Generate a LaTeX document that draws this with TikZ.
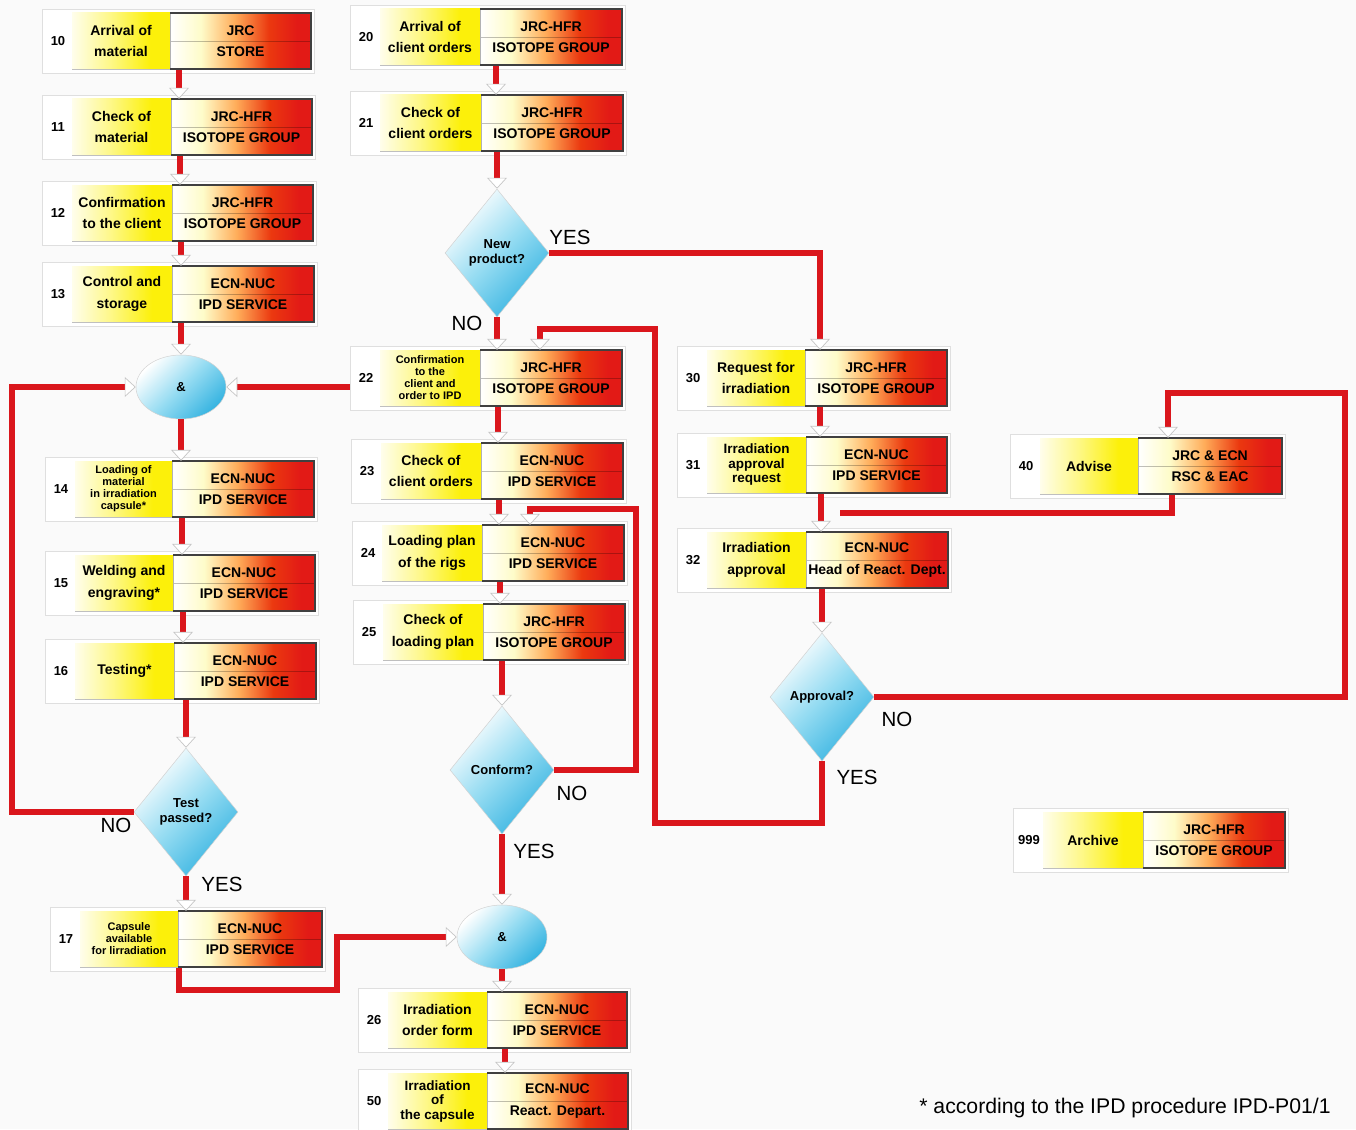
\documentclass[tikz,border=0pt]{standalone}
\usepackage{fontspec}
\setmainfont{Liberation Sans}
\usetikzlibrary{shapes.geometric,fit,arrows.meta}
\definecolor{dred}{RGB}{226,26,22}
\definecolor{lnred}{RGB}{218,22,28}
\definecolor{cyd}{RGB}{55,180,225}
\definecolor{cym}{RGB}{150,220,242}
\definecolor{yel}{RGB}{252,240,10}
\pgfdeclarehorizontalshading{labsh}{100bp}{color(0bp)=(white); color(25bp)=(yel!8!white); color(45bp)=(yel!50!white); color(65bp)=(yel); color(100bp)=(yel)}
\pgfdeclarehorizontalshading{deptsh}{100bp}{color(0bp)=(white); color(25bp)=(white); color(36bp)=(yel!22!white); color(48bp)=(orange!65!white); color(60bp)=(dred!70!orange); color(70bp)=(dred); color(100bp)=(dred)}
\tikzset{
  flow/.style={draw=lnred,line width=5.5},
  flowin/.style={flow,-{Triangle[width=20,length=11,fill=white,color=gray!45,line width=0.7]}},
  numtxt/.style={font=\fontsize{13}{15}\selectfont\bfseries},
  labtwo/.style={align=center,font=\fontsize{14}{21.5}\selectfont\bfseries},
  labthree/.style={align=center,font=\fontsize{13.5}{14.5}\selectfont\bfseries},
  labfour/.style={align=center,font=\fontsize{11}{12}\selectfont\bfseries},
  depttxt/.style={align=center,font=\fontsize{14}{21.5}\selectfont\bfseries},
  decision/.style={diamond,inner sep=0,minimum width=104,minimum height=128,
    top color=white,bottom color=cyd,middle color=cym,shading angle=45,
    draw=gray!35,line width=.5,align=center,font=\fontsize{13}{15}\selectfont\bfseries},
  joinnode/.style={ellipse,inner sep=0,minimum width=90,minimum height=64,
    top color=white,bottom color=cyd,middle color=cym,shading angle=45,
    draw=gray!35,line width=.5,font=\fontsize{13}{15}\selectfont\bfseries},
  yn/.style={font=\fontsize{20.5}{22}\selectfont},
}
% #1 name, #2 x0, #3 xm, #4 x1, #5 y0, #6 label style, #7 number, #8 label, #9 dept
\newcommand\stepbox[9]{%
  \path[fill=white,draw=gray!25,line width=.6] ({#2-30},{#5-4}) rectangle ({#4+3},{#5+60});
  \shade[shading=labsh] (#2,#5) rectangle (#3,{#5+56});
  \shade[shading=deptsh] (#3,#5) rectangle (#4,{#5+56});
  \draw[black,opacity=.25,line width=.5] (#3,{#5+28}) -- (#4,{#5+28});
  \draw[gray!60,line width=.8] (#3,#5) -- (#3,{#5+56});
  \draw[gray!50!black,line width=2.2] (#3,#5) -- (#4,#5) -- (#4,{#5+56}) -- (#3,{#5+56});
  \draw[gray!50,line width=.8] (#2,{#5+56}) -- (#3,{#5+56});
  \node[inner sep=0,fit={({#2-30},{#5}) ({#4+3},{#5+57})}] (#1) {};
  \node[numtxt] at ({#2-14},{#5+28}) {#7};
  \node[#6] at ({(#2+#3)/2},{#5+28}) {#8};
  \node[depttxt] at ({(#3+#4)/2},{#5+28}) {#9};
}
\begin{document}
\begin{tikzpicture}[x=1pt,y=-1pt]
\useasboundingbox (0,0) rectangle (1356,1129);
\fill[white!98!black] (0,0) rectangle (1356,1129);
% column 1
\stepbox{b10}{72}{170}{311}{13}{labtwo}{10}{Arrival of\\material}{JRC\\STORE}
\stepbox{b11}{72}{171}{312}{99}{labtwo}{11}{Check of\\material}{JRC-HFR\\ISOTOPE GROUP}
\stepbox{b12}{72}{172}{313}{185}{labtwo}{12}{Confirmation\\to the client}{JRC-HFR\\ISOTOPE GROUP}
\stepbox{b13}{72}{172}{314}{266}{labtwo}{13}{Control and\\storage}{ECN-NUC\\IPD SERVICE}
\stepbox{b14}{75}{172}{314}{461}{labfour}{14}{Loading of\\material\\in irradiation\\capsule*}{ECN-NUC\\IPD SERVICE}
\stepbox{b15}{75}{173}{315}{555}{labtwo}{15}{Welding and\\engraving*}{ECN-NUC\\IPD SERVICE}
\stepbox{b16}{75}{174}{316}{643}{labtwo}{16}{Testing*}{ECN-NUC\\IPD SERVICE}
\stepbox{b17}{80}{178}{322}{911}{labfour}{17}{Capsule\\available\\for lirradiation}{ECN-NUC\\IPD SERVICE}
% column 2
\stepbox{b20}{380}{480}{622}{9}{labtwo}{20}{Arrival of\\client orders}{JRC-HFR\\ISOTOPE GROUP}
\stepbox{b21}{380}{481}{623}{95}{labtwo}{21}{Check of\\client orders}{JRC-HFR\\ISOTOPE GROUP}
\stepbox{b22}{380}{480}{622}{350}{labfour}{22}{Confirmation\\to the\\client and\\order to IPD}{JRC-HFR\\ISOTOPE GROUP}
\stepbox{b23}{381}{481}{623}{443}{labtwo}{23}{Check of\\client orders}{ECN-NUC\\IPD SERVICE}
\stepbox{b24}{382}{482}{624}{525}{labtwo}{24}{Loading plan\\of the rigs}{ECN-NUC\\IPD SERVICE}
\stepbox{b25}{383}{483}{625}{604}{labtwo}{25}{Check of\\loading plan}{JRC-HFR\\ISOTOPE GROUP}
\stepbox{b26}{388}{487}{627}{992}{labtwo}{26}{Irradiation\\order form}{ECN-NUC\\IPD SERVICE}
\stepbox{b50}{388}{487}{628}{1073}{labthree}{50}{Irradiation\\of\\the capsule}{ECN-NUC\\React. Depart.}
% column 3
\stepbox{b30}{707}{805}{947}{350}{labtwo}{30}{Request for\\irradiation}{JRC-HFR\\ISOTOPE GROUP}
\stepbox{b31}{707}{806}{947}{437}{labthree}{31}{Irradiation\\approval\\request}{ECN-NUC\\IPD SERVICE}
\stepbox{b32}{707}{806}{948}{532}{labtwo}{32}{Irradiation\\approval}{ECN-NUC\\Head of React. Dept.}
\stepbox{b40}{1040}{1138}{1282}{438}{labtwo}{40}{Advise}{JRC \& ECN\\RSC \& EAC}
\stepbox{b999}{1043}{1143}{1285}{812}{labtwo}{999}{Archive}{JRC-HFR\\ISOTOPE GROUP}
% decisions and joins
\node[decision] (np) at (497,253) {New\\product?};
\node[decision] (tp) at (186,812) {Test\\passed?};
\node[decision] (cf) at (502,770) {Conform?};
\node[decision] (ap) at (822,697) {Approval?};
\node[joinnode] (and1) at (181,387) {\&};
\node[joinnode] (and2) at (502,937) {\&};
% connectors column 1
\draw[flowin] (179,0|-b10.south) -- (179,0|-b11.north);
\draw[flowin] (180,0|-b11.south) -- (180,0|-b12.north);
\draw[flowin] (181,0|-b12.south) -- (181,0|-b13.north);
\draw[flowin] (and1.north|-b13.south) -- (and1.north);
\draw[flowin] (and1.south) -- (and1.south|-b14.north);
\draw[flowin] (182,0|-b14.south) -- (182,0|-b15.north);
\draw[flowin] (183,0|-b15.south) -- (183,0|-b16.north);
\draw[flowin] (tp.north|-b16.south) -- (tp.north);
\draw[flowin] (tp.south) -- (tp.south|-b17.north);
\draw[flowin] (tp.west) -- ++(-122,0) |- (and1.west);
\draw[flowin] (b22.west|-and1.east) -- (and1.east);
\draw[flowin] (179,0|-b17.south) -- (179,990) -- (337,990) |- (and2.west);
% connectors column 2
\draw[flowin] (496,0|-b20.south) -- (496,0|-b21.north);
\draw[flowin] (np.north|-b21.south) -- (np.north);
\draw[flowin] (np.south) -- (np.south|-b22.north);
\draw[flowin] (np.east) -| (820,0|-b30.north);
\draw[flowin] (498,0|-b22.south) -- (498,0|-b23.north);
\draw[flowin] (499,0|-b23.south) -- (499,0|-b24.north);
\draw[flowin] (500,0|-b24.south) -- (500,0|-b25.north);
\draw[flowin] (cf.north|-b25.south) -- (cf.north);
\draw[flowin] (cf.east) -| (636,509) -| (530,0|-b24.north);
\draw[flowin] (cf.south) -- (and2.north);
\draw[flowin] (and2.south) -- (and2.south|-b26.north);
\draw[flowin] (505,0|-b26.south) -- (505,0|-b50.north);
% connectors column 3
\draw[flowin] (820,0|-b30.south) -- (820,0|-b31.north);
\draw[flowin] (821,0|-b31.south) -- (821,0|-b32.north);
\draw[flowin] (ap.north|-b32.south) -- (ap.north);
\draw[flowin] (ap.east) -| (1345,393) -| (1168,0|-b40.north);
\coordinate (m32) at (840,513);
\draw[flow] (1172,0|-b40.south) |- (m32);
\draw[flowin] (ap.south) |- (655,823) |- (540,329) -- (540,0|-b22.north);
% labels
\node[yn] at (570,237) {YES};
\node[yn] at (467,323) {NO};
\node[yn] at (116,825) {NO};
\node[yn] at (222,884) {YES};
\node[yn] at (572,793) {NO};
\node[yn] at (534,851) {YES};
\node[yn] at (897,719) {NO};
\node[yn] at (857,777) {YES};
\node[font=\fontsize{21.2}{23}\selectfont] (fn) at (1125,1108) {* according to the IPD procedure IPD-P01/1};
\end{tikzpicture}
\end{document}
